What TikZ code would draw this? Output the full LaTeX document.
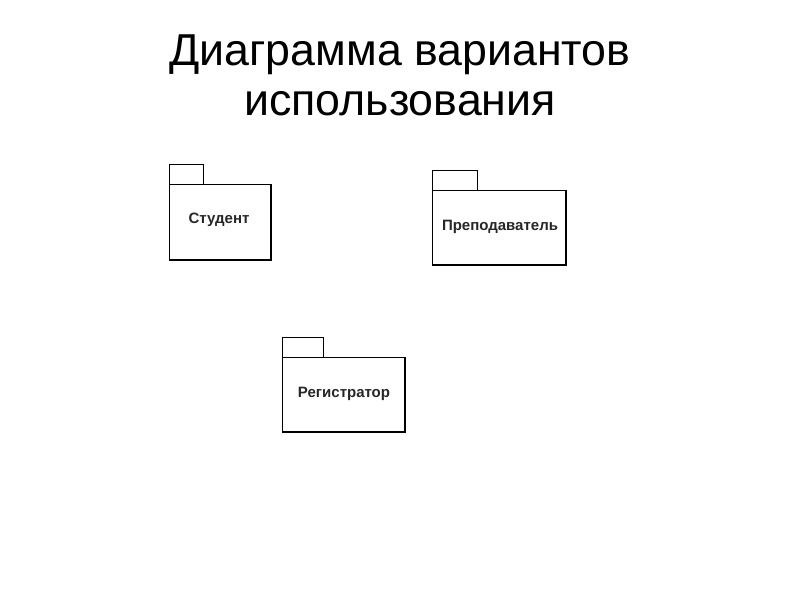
\documentclass[tikz,border=0pt]{standalone}
\usepackage{fontspec}
\setmainfont{Liberation Sans}
\begin{document}
\begin{tikzpicture}[x=1pt,y=-1pt,
  pkgline/.style={draw=black,line width=0.8pt},
  pkgshadow/.style={draw=black,line width=1.6pt},
  pkglabel/.style={font=\fontsize{15}{18}\selectfont\bfseries,text=black!85},
  titletext/.style={font=\fontsize{44.7}{50}\selectfont,align=center,text=black}]
\useasboundingbox (0,0) rectangle (800,600);
\node[titletext] (title) at (400,75) {Диаграмма вариантов\\использования};
% Student
\draw[pkgline] (169,184) rectangle (271,260);
\draw[pkgline] (169,184) -- (169,164) -- (203,164) -- (203,184);
\draw[pkgshadow] (271,185) -- (271,260) -- (170,260);
\node[pkglabel] (student) at (219,220) {Студент};
% Teacher
\draw[pkgline] (432,190) rectangle (566,265);
\draw[pkgline] (432,190) -- (432,170) -- (477,170) -- (477,190);
\draw[pkgshadow] (566,191) -- (566,265) -- (433,265);
\node[pkglabel] (teacher) at (500,227) {Преподаватель};
% Registrar
\draw[pkgline] (282,357) rectangle (405,432);
\draw[pkgline] (282,357) -- (282,337) -- (323,337) -- (323,357);
\draw[draw=black,line width=1.3pt] (405,358) -- (405,432) -- (283,432);
\node[pkglabel] (registrar) at (344,394) {Регистратор};
\end{tikzpicture}
\end{document}
